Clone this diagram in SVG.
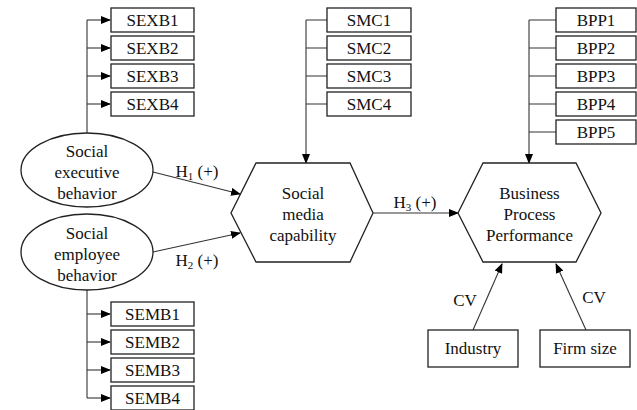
<svg xmlns="http://www.w3.org/2000/svg" width="637" height="410" viewBox="0 0 637 410">
<defs>
<marker id="ah" markerWidth="10" markerHeight="8" refX="9" refY="4" orient="auto" markerUnits="userSpaceOnUse">
<path d="M0,0 L10,4 L0,8 Z" fill="#000"/>
</marker>
<style>
text{font-family:"Liberation Serif","Times New Roman",serif;font-size:17px;fill:#111;text-anchor:middle}
.box{fill:#fff;stroke:#222;stroke-width:1.3}
.shape{fill:#fff;stroke:#222;stroke-width:1.3}
.ln{fill:none;stroke:#333;stroke-width:1.1}
.arr{fill:none;stroke:#333;stroke-width:1.1;marker-end:url(#ah)}
.sub{font-size:11px}
</style>
</defs>
<rect width="637" height="410" fill="#fff"/>

<g id="connectors">
<!-- SEXB -->
<path class="ln" d="M87,133 V20"/>
<path class="arr" d="M87,20 H110"/>
<path class="arr" d="M87,48 H110"/>
<path class="arr" d="M87,76 H110"/>
<path class="arr" d="M87,104 H110"/>
<!-- SEMB -->
<path class="ln" d="M87,290 V398"/>
<path class="arr" d="M87,314 H110"/>
<path class="arr" d="M87,342 H110"/>
<path class="arr" d="M87,370 H110"/>
<path class="arr" d="M87,398 H110"/>
<!-- SMC -->
<path class="ln" d="M327,20 H306 M327,48 H306 M327,76 H306 M327,104 H306"/>
<path class="arr" d="M306,20 V163"/>
<!-- BPP -->
<path class="ln" d="M556,20 H529 M556,48 H529 M556,76 H529 M556,104 H529 M556,132 H529"/>
<path class="arr" d="M529,20 V163"/>
<!-- H1 H2 H3 -->
<path class="arr" d="M153,172 L240,194"/>
<path class="arr" d="M153,252 L240,233"/>
<path class="arr" d="M373,213 L458,213"/>
<!-- CV -->
<path class="arr" d="M473,330 L502,264"/>
<path class="arr" d="M586,330 L556,264"/>
<text x="197" y="177">H<tspan class="sub" dy="3">1</tspan><tspan dy="-3"> (+)</tspan></text>
<text x="197" y="266">H<tspan class="sub" dy="3">2</tspan><tspan dy="-3"> (+)</tspan></text>
<text x="415" y="208">H<tspan class="sub" dy="3">3</tspan><tspan dy="-3"> (+)</tspan></text>
<text x="465" y="306">CV</text>
<text x="594" y="303">CV</text>
</g>

<g id="SEXB1"><rect class="box" x="111" y="8" width="83" height="24"/><text x="152.5" y="26">SEXB1</text></g>
<g id="SEXB2"><rect class="box" x="111" y="36" width="83" height="24"/><text x="152.5" y="54">SEXB2</text></g>
<g id="SEXB3"><rect class="box" x="111" y="64" width="83" height="24"/><text x="152.5" y="82">SEXB3</text></g>
<g id="SEXB4"><rect class="box" x="111" y="92" width="83" height="24"/><text x="152.5" y="110">SEXB4</text></g>

<g id="SEMB1"><rect class="box" x="111" y="302" width="83" height="24"/><text x="152.5" y="320">SEMB1</text></g>
<g id="SEMB2"><rect class="box" x="111" y="330" width="83" height="24"/><text x="152.5" y="348">SEMB2</text></g>
<g id="SEMB3"><rect class="box" x="111" y="358" width="83" height="24"/><text x="152.5" y="376">SEMB3</text></g>
<g id="SEMB4"><rect class="box" x="111" y="386" width="83" height="24"/><text x="152.5" y="404">SEMB4</text></g>

<g id="SMC1"><rect class="box" x="327" y="8" width="84" height="24"/><text x="369" y="26">SMC1</text></g>
<g id="SMC2"><rect class="box" x="327" y="36" width="84" height="24"/><text x="369" y="54">SMC2</text></g>
<g id="SMC3"><rect class="box" x="327" y="64" width="84" height="24"/><text x="369" y="82">SMC3</text></g>
<g id="SMC4"><rect class="box" x="327" y="92" width="84" height="24"/><text x="369" y="110">SMC4</text></g>

<g id="BPP1"><rect class="box" x="556" y="8" width="80" height="24"/><text x="596" y="26">BPP1</text></g>
<g id="BPP2"><rect class="box" x="556" y="36" width="80" height="24"/><text x="596" y="54">BPP2</text></g>
<g id="BPP3"><rect class="box" x="556" y="64" width="80" height="24"/><text x="596" y="82">BPP3</text></g>
<g id="BPP4"><rect class="box" x="556" y="92" width="80" height="24"/><text x="596" y="110">BPP4</text></g>
<g id="BPP5"><rect class="box" x="556" y="120" width="80" height="24"/><text x="596" y="138">BPP5</text></g>

<g id="SEB"><ellipse class="shape" cx="87" cy="170" rx="66" ry="37"/>
<text x="87" y="157">Social</text><text x="87" y="178">executive</text><text x="87" y="199">behavior</text></g>
<g id="SEMB"><ellipse class="shape" cx="87" cy="252" rx="66" ry="38"/>
<text x="87" y="239">Social</text><text x="87" y="260">employee</text><text x="87" y="281">behavior</text></g>

<g id="SMCap"><path class="shape" d="M256,163 H350 L373,213 L350,262 H256 L231,213 Z"/>
<text x="303" y="199">Social</text><text x="303" y="220">media</text><text x="303" y="241">capability</text></g>

<g id="BPPerf"><path class="shape" d="M483,163 H576 L601,213 L576,262 H483 L458,213 Z"/>
<text x="529.5" y="199">Business</text><text x="529.5" y="220">Process</text><text x="529.5" y="241">Performance</text></g>

<g id="Industry"><rect class="box" x="428" y="330" width="90" height="37"/><text x="473" y="354">Industry</text></g>
<g id="FirmSize"><rect class="box" x="540" y="330" width="90" height="37"/><text x="585" y="354">Firm size</text></g>
</svg>
